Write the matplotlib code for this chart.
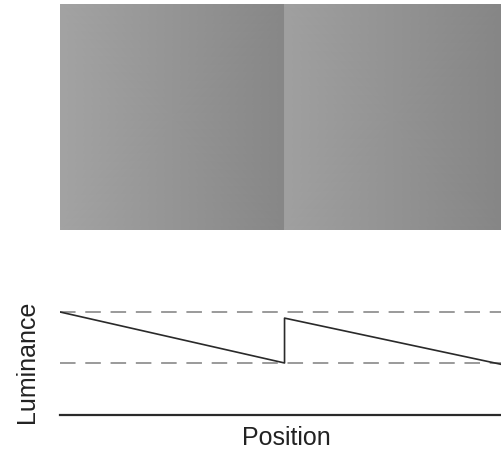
import matplotlib
matplotlib.use("Agg")
import matplotlib.pyplot as plt
import numpy as np

plt.rcParams['font.family'] = ['Liberation Sans', 'DejaVu Sans']

# Luminance profile (sawtooth) along position
position = [0.0, 0.508, 0.508, 1.0]
luminance = [1.0, 0.0, 0.88, -0.03]
upper_ref = 1.0
lower_ref = 0.0
baseline = -1.02

# grey level mapping for the stimulus image
grey_dark = 0.53
grey_span = 0.11

W, H = 502, 449
fig = plt.figure(figsize=(W / 100, H / 100), dpi=100)

# Top: stimulus
ax1 = fig.add_axes([60 / W, 1 - 230 / H, 1 - 60 / W, 226 / H])
x = np.array(position)
C = grey_dark + grey_span * np.array([luminance, luminance])
ax1.pcolormesh(x, [0, 1], C, shading='gouraud', cmap='gray', vmin=0, vmax=1)
ax1.set_xlim(0, 1)
ax1.set_ylim(0, 1)
ax1.axis('off')

# Bottom: luminance profile
ax2 = fig.add_axes([60 / W, 1 - 415 / H, 1 - 60 / W, 115 / H])
ax2.axhline(upper_ref, color='#9a9a9a', lw=1.4, ls=(0, (8, 5)))
ax2.axhline(lower_ref, color='#9a9a9a', lw=1.4, ls=(0, (8, 5)))
ax2.plot(position, luminance, color='#2a2a2a', lw=1.2)
ax2.set_xlim(0, 1)
ax2.set_ylim(baseline, 1.235)
for s in ['top', 'right', 'left']:
    ax2.spines[s].set_visible(False)
ax2.spines['bottom'].set_linewidth(1.6)
ax2.spines['bottom'].set_color('#2a2a2a')
ax2.set_xticks([])
ax2.set_yticks([])

fig.text(286 / W, 1 - 445 / H, 'Position', ha='center', va='baseline',
         fontsize=18, color='#222222')
fig.text(27 / W, 1 - 362 / H, 'Luminance', ha='center', va='center',
         rotation=90, fontsize=18, color='#222222')

fig.savefig('out.png', dpi=100)
